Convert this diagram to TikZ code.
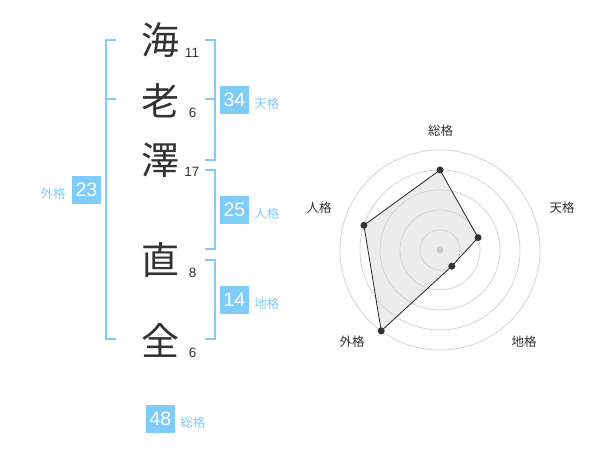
\documentclass[tikz,border=0pt]{standalone}
\usepackage{fontspec}
\setmainfont{Liberation Sans}
\newfontfamily\cjk{Noto Sans CJK JP}
\definecolor{lb}{RGB}{128,204,248}
\definecolor{tx}{RGB}{51,51,51}
\definecolor{ring}{RGB}{208,208,208}
\definecolor{areafill}{RGB}{236,236,236}
\begin{document}
\begin{tikzpicture}[x=1pt,y=-1pt,
  kanji/.style={inner sep=0pt, text=tx, font=\cjk\fontsize{38}{38}\selectfont},
  num/.style={inner sep=0pt, text=tx, font=\fontsize{13.5}{14}\selectfont},
  br/.style={draw=lb, line width=2pt},
  box/.style={fill=lb, text=white, inner sep=0pt, minimum width=29pt, minimum height=28pt, font=\fontsize{19.5}{20}\selectfont},
  lbl/.style={inner sep=0pt, text=lb, font=\cjk\fontsize{12.5}{13}\selectfont},
  rlbl/.style={inner sep=0pt, text=tx, font=\cjk\fontsize{12.5}{13}\selectfont},
  ringc/.style={draw=ring, line width=0.7pt},
  dotn/.style={circle, fill=tx, inner sep=0pt, minimum size=7pt},
]
\useasboundingbox (0,0) rectangle (600,470);
\fill[white] (0,0) rectangle (600,470);

% kanji
\node[kanji] (k1) at (160.5,40) {海};
\node[kanji] (k2) at (160.5,101) {老};
\node[kanji] (k3) at (160.5,160) {澤};
\node[kanji] (k4) at (160.5,260.5) {直};
\node[kanji] (k5) at (160.5,340) {全};

% stroke counts
\node[num] (n1) at (192,53) {11};
\node[num] (n2) at (192.7,113) {6};
\node[num] (n3) at (192,172) {17};
\node[num] (n4) at (192.7,272.5) {8};
\node[num] (n5) at (192.7,353) {6};

% left bracket
\draw[br] (116,40) -- (106,40) -- (106,339.5) -- (116,339.5);
\draw[br] (106,99.5) -- (116,99.5);

% right brackets
\draw[br] (205,40) -- (214.5,40) -- (214.5,160) -- (205,160);
\draw[br] (205,99.5) -- (214.5,99.5);
\draw[br] (205,170) -- (214.5,170) -- (214.5,249.5) -- (205,249.5);
\draw[br] (205,260) -- (214.5,260) -- (214.5,339.5) -- (205,339.5);

% boxes
\node[box] (b34) at (234.5,100) {34};
\node[lbl, anchor=west] (l34) at ([xshift=5pt,yshift=-4pt]b34.east) {天格};
\node[box] (b25) at (234.5,210) {25};
\node[lbl, anchor=west] (l25) at ([xshift=5pt,yshift=-4pt]b25.east) {人格};
\node[box] (b14) at (234.5,300) {14};
\node[lbl, anchor=west] (l14) at ([xshift=5pt,yshift=-4pt]b14.east) {地格};
\node[box] (b23) at (86.5,190) {23};
\node[lbl, anchor=east] (l23) at ([xshift=-6pt,yshift=-4pt]b23.west) {外格};
\node[box] (b48) at (160.5,419) {48};
\node[lbl, anchor=west] (l48) at ([xshift=5pt,yshift=-4pt]b48.east) {総格};

% radar
\coordinate (c) at (440,250);
\coordinate (p1) at ([shift={(-90:80)}]c);
\coordinate (p2) at ([shift={(-18:40)}]c);
\coordinate (p3) at ([shift={(54:20)}]c);
\coordinate (p4) at ([shift={(126:100)}]c);
\coordinate (p5) at ([shift={(198:80)}]c);
\fill[areafill] (p1) -- (p2) -- (p3) -- (p4) -- (p5) -- cycle;
\foreach \r in {20,40,60,80,100} {\draw[ringc] (c) circle (\r);}
\node[circle, fill=ring, inner sep=0pt, minimum size=7pt] (cd) at (c) {};
\draw[black!85, line width=0.8pt, line join=round] (p1) -- (p2) -- (p3) -- (p4) -- (p5) -- cycle;
\node[dotn] (d1) at (p1) {};
\node[dotn] (d2) at (p2) {};
\node[dotn] (d3) at (p3) {};
\node[dotn] (d4) at (p4) {};
\node[dotn] (d5) at (p5) {};

\node[rlbl] (r1) at (440.7,130.5) {総格};
\node[rlbl] (r2) at (562,208) {天格};
\node[rlbl] (r3) at (524,342) {地格};
\node[rlbl] (r4) at (352,342) {外格};
\node[rlbl] (r5) at (319,208) {人格};
\end{tikzpicture}
\end{document}
